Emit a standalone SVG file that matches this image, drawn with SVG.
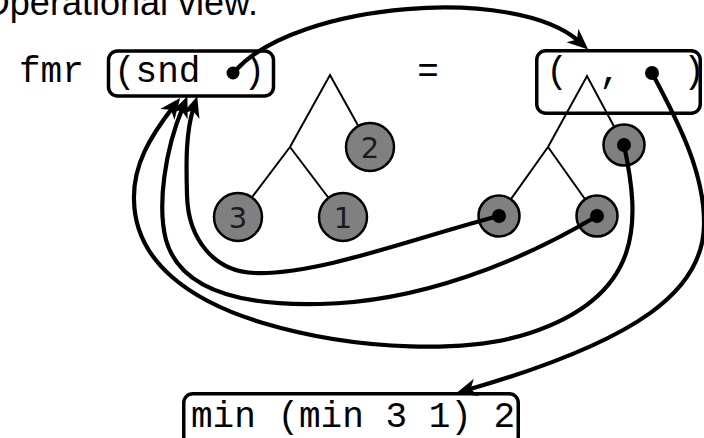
<svg xmlns="http://www.w3.org/2000/svg" width="704" height="438" viewBox="0 0 704 438">
<style>
.mono{font-family:"Liberation Mono","Courier New",monospace;font-size:36px;fill:#000}
.box{fill:none;stroke:#000;stroke-width:3.5}
.edge{fill:none;stroke:#000;stroke-width:2}
.node{fill:#808080;stroke:#000;stroke-width:2.5}
.lbl{font-family:"DejaVu Sans",sans-serif;font-size:29px;fill:#1a1a1a;text-anchor:middle}
.conn{fill:none;stroke:#000;stroke-width:4.2}
</style>
<defs>
<marker id="ah" markerUnits="userSpaceOnUse" markerWidth="30" markerHeight="30" viewBox="-10 -10 20 20" refX="0" refY="0" orient="auto" overflow="visible">
<path d="M8,0 L-6,-6 L-2,0 L-6,6 Z" fill="#000"/>
</marker>
</defs>
<rect width="704" height="438" fill="#fff"/>
<g id="title"><text x="258" y="15" text-anchor="end" font-family="Liberation Sans,Arial,sans-serif" font-size="36">Operational view.</text></g>
<g id="fmr"><text class="mono" x="19" y="82">fmr</text></g>
<g id="box-snd">
<rect class="box" x="108.5" y="51" width="165" height="45" rx="9"/>
<text class="mono" x="114" y="82">(snd</text>
<text class="mono" x="243.6" y="82">)</text>
<circle cx="233" cy="73" r="6.5" fill="#000"/>
</g>
<g id="eq"><text class="mono" x="428" y="82" text-anchor="middle">=</text></g>
<g id="box-pair">
<rect class="box" x="536.75" y="50.75" width="163.5" height="62.5" rx="9"/>
<text class="mono" x="557" y="82" text-anchor="middle">(</text>
<text class="mono" x="610" y="82" text-anchor="middle">,</text>
<text class="mono" x="694" y="82" text-anchor="middle">)</text>
<circle cx="652" cy="73" r="7" fill="#000"/>
</g>
<g id="box-result">
<rect class="box" x="183.75" y="393.75" width="334.5" height="52" rx="9"/>
<text class="mono" x="191" y="427">min (min 3 1) 2</text>
</g>
<g id="tree-left-edges">
<path class="edge" d="M290,147 L330,75 L370,147 M290,147 L237,217 M290,147 L343,217"/>
</g>
<g id="node-2"><circle class="node" cx="370" cy="147" r="24"/><text class="lbl" x="370" y="157.5">2</text></g>
<g id="node-3"><circle class="node" cx="238" cy="217" r="24"/><text class="lbl" x="238" y="227.5">3</text></g>
<g id="node-1"><circle class="node" cx="343" cy="217" r="24"/><text class="lbl" x="343" y="227.5">1</text></g>
<g id="tree-right-edges">
<path class="edge" d="M548,147 L587,76 L624,145 M548,147 L499,216 M548,147 L597,216"/>
</g>
<g id="node-r"><circle class="node" cx="624" cy="145" r="20.5"/><circle cx="624" cy="145" r="7" fill="#000"/></g>
<g id="node-rl"><circle class="node" cx="499" cy="216" r="20.5"/><circle cx="499" cy="216" r="7" fill="#000"/></g>
<g id="node-rr"><circle class="node" cx="597" cy="216" r="20.5"/><circle cx="597" cy="216" r="7" fill="#000"/></g>
<g id="connectors">
<path class="conn" marker-end="url(#ah)" d="M236,70 C298,2 515,-15 579.2,41.5"/>
<path class="conn" marker-end="url(#ah)" d="M652,73 C680,125 705,175 704,225 C703,290 640,340 467.7,389.8"/>
<path class="conn" marker-end="url(#ah)" d="M499,216 C420,236 320,275 255,273 C215,272 188,240 187,195 C186,160 186,131.6 193.6,107.6"/>
<path class="conn" marker-end="url(#ah)" d="M597,216 C520,262 420,302 320,304 C240,306 180,290 166,240 C157,205 165,150 182.8,107.4"/>
<path class="conn" marker-end="url(#ah)" d="M624,145 C640,220 645,295 530,333 C470,353 360,352 263,323 C190,301 135,262 134,200 C133,165 150,137 172.8,107.4"/>
</g>
</svg>
